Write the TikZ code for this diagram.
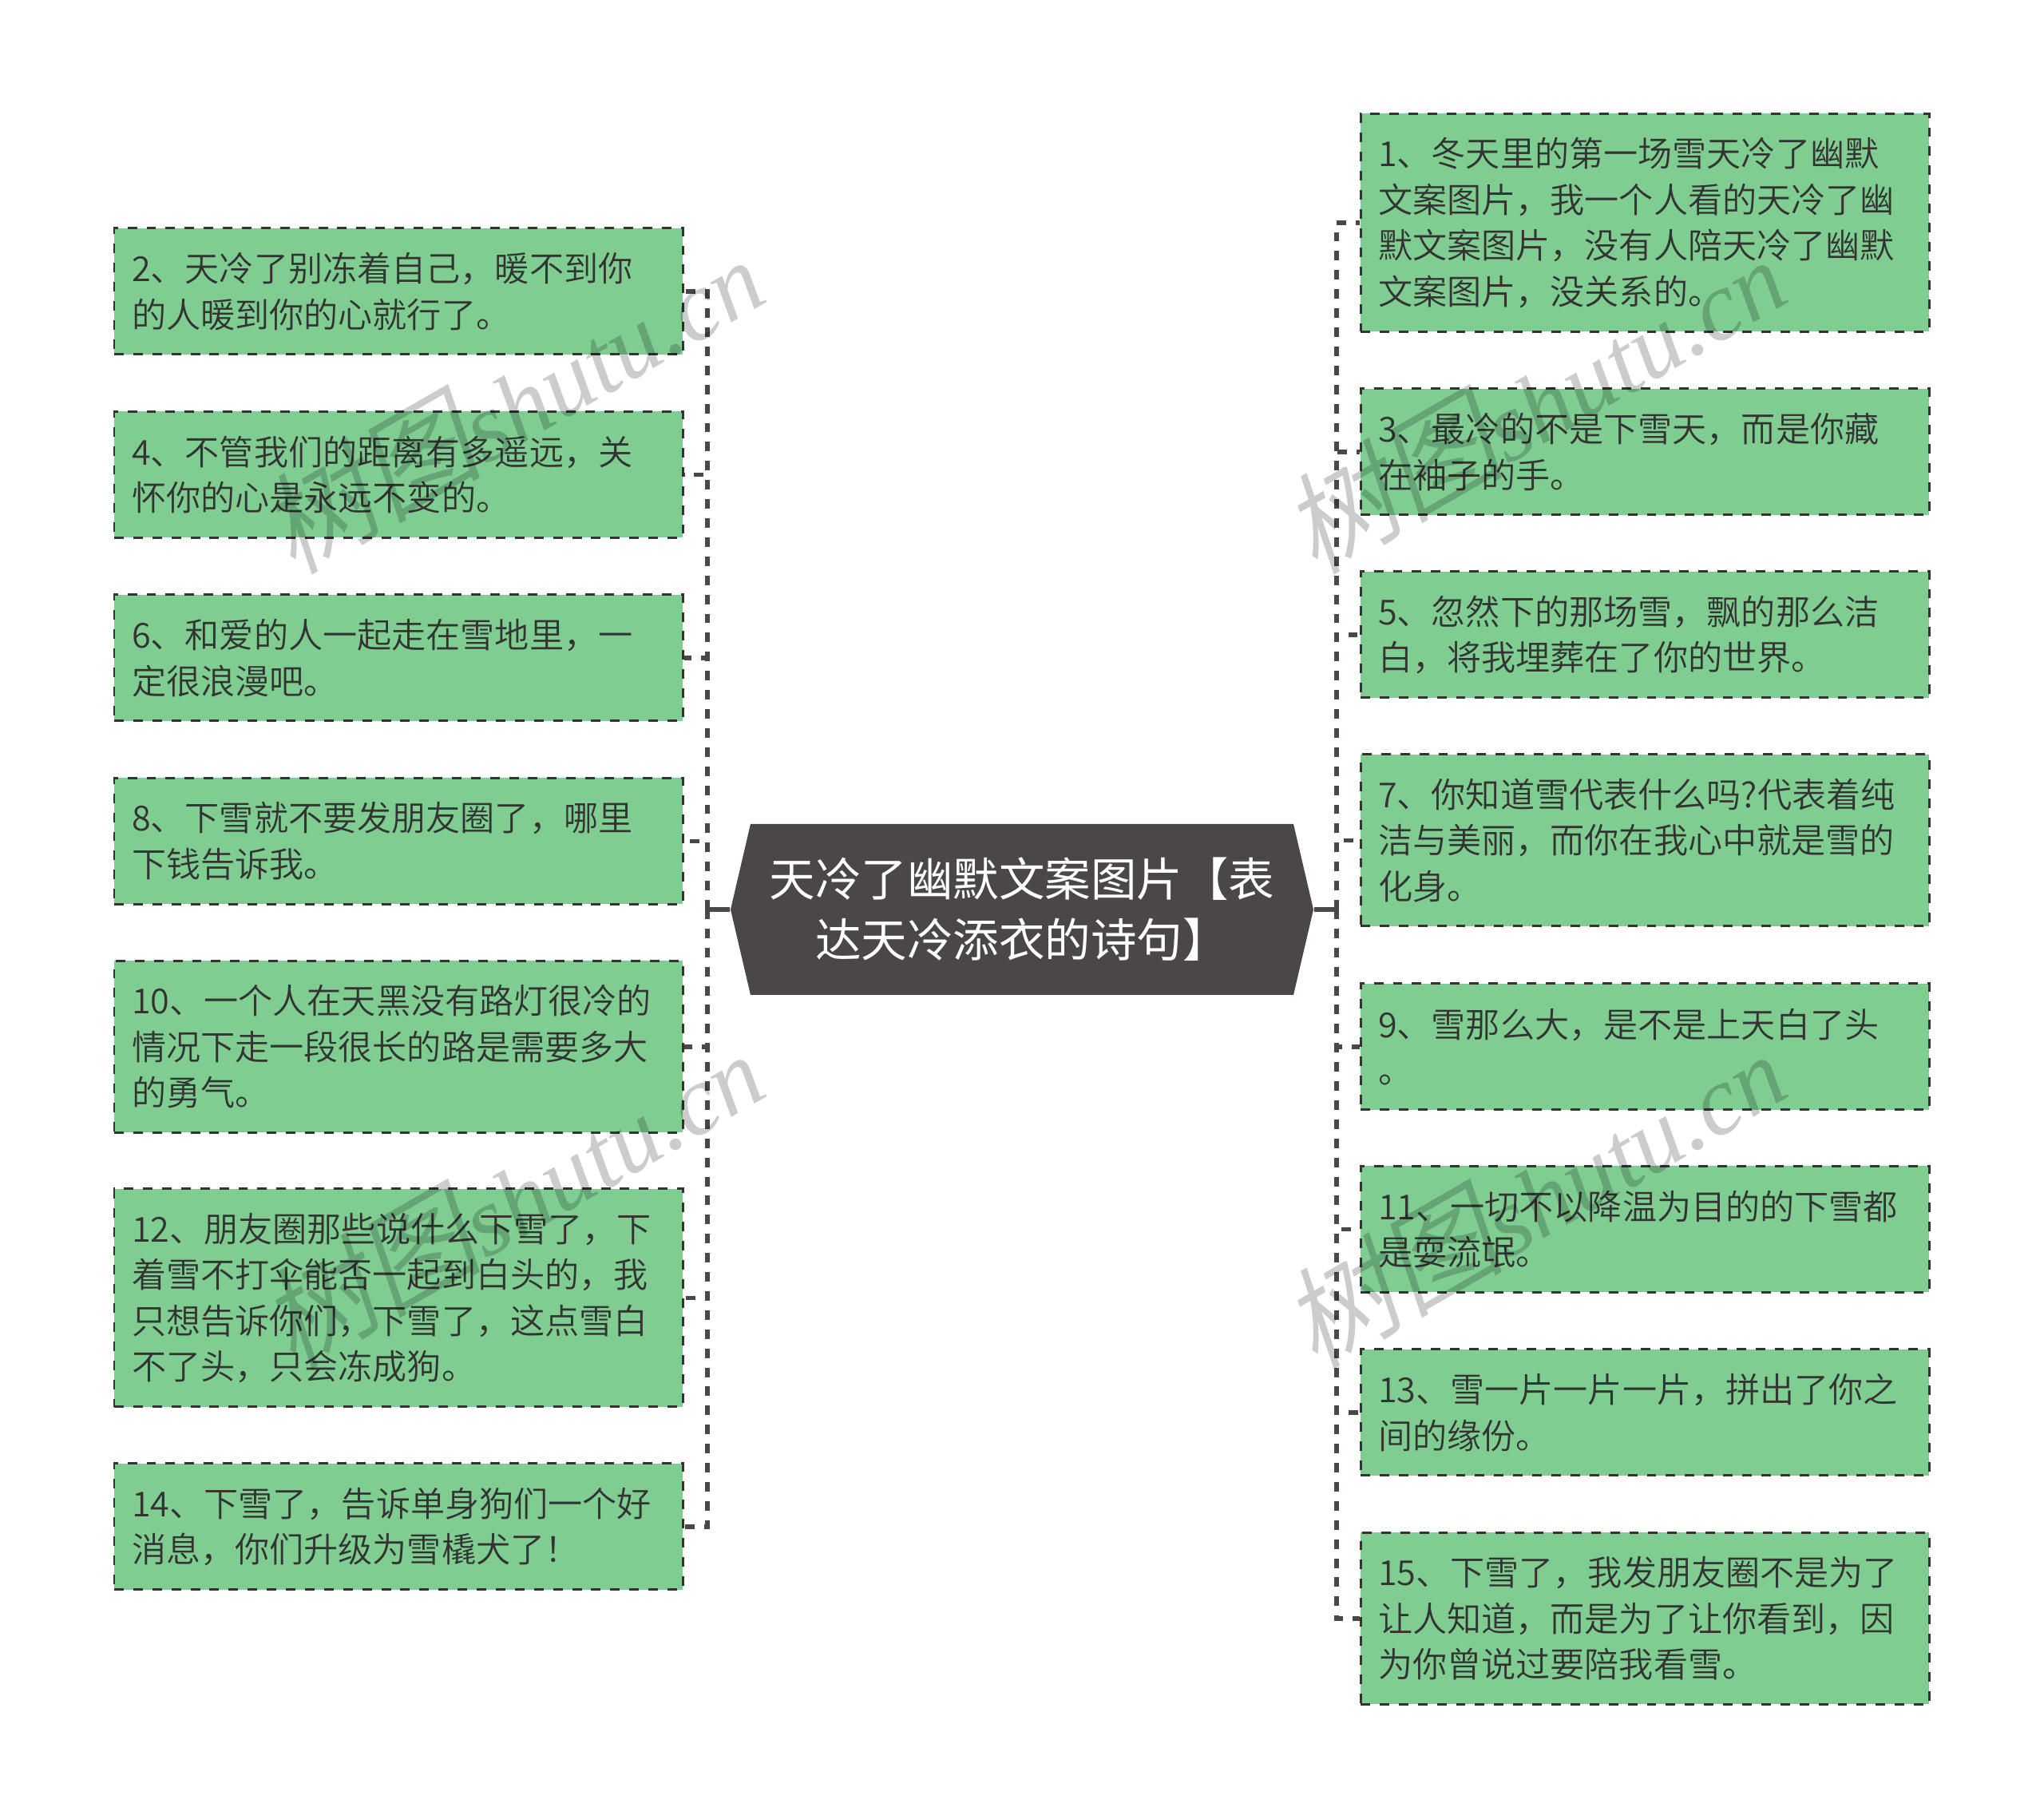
\documentclass[tikz,border=0pt]{standalone}
\usepackage{fontspec}
\usetikzlibrary{shapes.symbols}
\setmainfont{Noto Sans CJK SC DemiLight}
\newfontfamily\rootfont{Noto Sans CJK SC}
\newfontfamily\wmcjk{Noto Sans CJK SC DemiLight}[FakeSlant=0.2,Scale=1.1]
\newfontfamily\wmlatin{Liberation Serif}[Scale=0.97]
\definecolor{leafgreen}{HTML}{7FCD91}
\definecolor{rootgrey}{HTML}{4C4747}
\definecolor{inkgrey}{HTML}{333333}
\tikzset{
  leafbox/.style={draw=inkgrey,fill=leafgreen,line width=0.85pt,dash pattern=on 3.4pt off 3.4pt,
    minimum width=7.12cm,minimum height=#1cm,inner xsep=0.22cm,inner ysep=0pt,text width=6.68cm,align=left,
    text=inkgrey,font=\fontsize{12.27}{16.36}\selectfont},
  rootbox/.style={signal,signal to=west and east,signal pointer angle=153.7,
    fill=rootgrey,minimum width=7.3cm,minimum height=2.14cm,inner sep=0pt,align=center,
    text=white,font=\rootfont\fontsize{16.36}{21.6}\selectfont},
  rootlink/.style={draw=rootgrey,line width=1.5pt},
  leaflink/.style={draw=rootgrey,line width=1.5pt,dash pattern=on 3.4pt off 3.4pt},
  wmark/.style={rotate=30,text=black,text opacity=0.2,font=\fontsize{36}{36}\selectfont}
}
\begin{document}
\begin{tikzpicture}
\useasboundingbox (0,0) rectangle (25.6,22.78);

%%%%%%%%%%%%%%%%%%%%%%%%%%%%%%%%%%%%%%%%%%%%%%%%%%%%%%%%%%%%%%%%%
\node [rootbox] (root) at (12.8,11.39) {天冷了幽默文案图片【表\\达天冷添衣的诗句】};
\coordinate (busl) at (8.86,11.39);
\coordinate (busr) at (16.74,11.39);

%%%%%%%%%%%%%%%%%%%%%%%%%%%%%%%%%%%%%%%%%%%%%%%%%%%%%%%%%%%%%%%%%
\node [leafbox=1.58] (s2) at (4.99,19.13) {2、天冷了别冻着自己，暖不到你\\的人暖到你的心就行了。};
\node [leafbox=1.58] (s4) at (4.99,16.835) {4、不管我们的距离有多遥远，关\\怀你的心是永远不变的。};
\node [leafbox=1.58] (s6) at (4.99,14.54) {6、和爱的人一起走在雪地里，一\\定很浪漫吧。};
\node [leafbox=1.58] (s8) at (4.99,12.245) {8、下雪就不要发朋友圈了，哪里\\下钱告诉我。};
\node [leafbox=2.15] (s10) at (4.99,9.67) {10、一个人在天黑没有路灯很冷的\\情况下走一段很长的路是需要多大\\的勇气。};
\node [leafbox=2.73] (s12) at (4.99,6.525) {12、朋友圈那些说什么下雪了，下\\着雪不打伞能否一起到白头的，我\\只想告诉你们，下雪了，这点雪白\\不了头，只会冻成狗。};
\node [leafbox=1.58] (s14) at (4.99,3.66) {14、下雪了，告诉单身狗们一个好\\消息，你们升级为雪橇犬了！};

%%%%%%%%%%%%%%%%%%%%%%%%%%%%%%%%%%%%%%%%%%%%%%%%%%%%%%%%%%%%%%%%%
\node [leafbox=2.73] (s1) at (20.6,19.99) {1、冬天里的第一场雪天冷了幽默\\文案图片，我一个人看的天冷了幽\\默文案图片，没有人陪天冷了幽默\\文案图片，没关系的。};
\node [leafbox=1.58] (s3) at (20.6,17.12) {3、最冷的不是下雪天，而是你藏\\在袖子的手。};
\node [leafbox=1.58] (s5) at (20.6,14.83) {5、忽然下的那场雪，飘的那么洁\\白，将我埋葬在了你的世界。};
\node [leafbox=2.15] (s7) at (20.6,12.255) {7、你知道雪代表什么吗?代表着纯\\洁与美丽，而你在我心中就是雪的\\化身。};
\node [leafbox=1.58] (s9) at (20.6,9.67) {9、雪那么大，是不是上天白了头\\。};
\node [leafbox=1.58] (s11) at (20.6,7.385) {11、一切不以降温为目的的下雪都\\是耍流氓。};
\node [leafbox=1.58] (s13) at (20.6,5.09) {13、雪一片一片一片，拼出了你之\\间的缘份。};
\node [leafbox=2.15] (s15) at (20.6,2.51) {15、下雪了，我发朋友圈不是为了\\让人知道，而是为了让你看到，因\\为你曾说过要陪我看雪。};

%%%%%%%%%%%%%%%%%%%%%%%%%%%%%%%%%%%%%%%%%%%%%%%%%%%%%%%%%%%%%%%%%
\draw [rootlink] (root.west) -- (busl);
\draw [leaflink] (busl) |- (s2.east);
\draw [leaflink] (busl) |- (s4.east);
\draw [leaflink] (busl) |- (s6.east);
\draw [leaflink] (busl) |- (s8.east);
\draw [leaflink] (busl) |- (s10.east);
\draw [leaflink] (busl) |- (s12.east);
\draw [leaflink] (busl) |- (s14.east);

\draw [rootlink] (root.east) -- (busr);
\draw [leaflink] (busr) |- (s1.west);
\draw [leaflink] (busr) |- (s3.west);
\draw [leaflink] (busr) |- (s5.west);
\draw [leaflink] (busr) |- (s7.west);
\draw [leaflink] (busr) |- (s9.west);
\draw [leaflink] (busr) |- (s11.west);
\draw [leaflink] (busr) |- (s13.west);
\draw [leaflink] (busr) |- (s15.west);

%%%%%%%%%%%%%%%%%%%%%%%%%%%%%%%%%%%%%%%%%%%%%%%%%%%%%%%%%%%%%%%%%
\node [wmark] (wm1) at (6.4,17.75) {{\wmcjk 树图}{\wmlatin\itshape shutu.cn}};
\node [wmark] (wm2) at (19.2,17.75) {{\wmcjk 树图}{\wmlatin\itshape shutu.cn}};
\node [wmark] (wm3) at (6.4,7.8) {{\wmcjk 树图}{\wmlatin\itshape shutu.cn}};
\node [wmark] (wm4) at (19.2,7.8) {{\wmcjk 树图}{\wmlatin\itshape shutu.cn}};

\end{tikzpicture}
\end{document}
